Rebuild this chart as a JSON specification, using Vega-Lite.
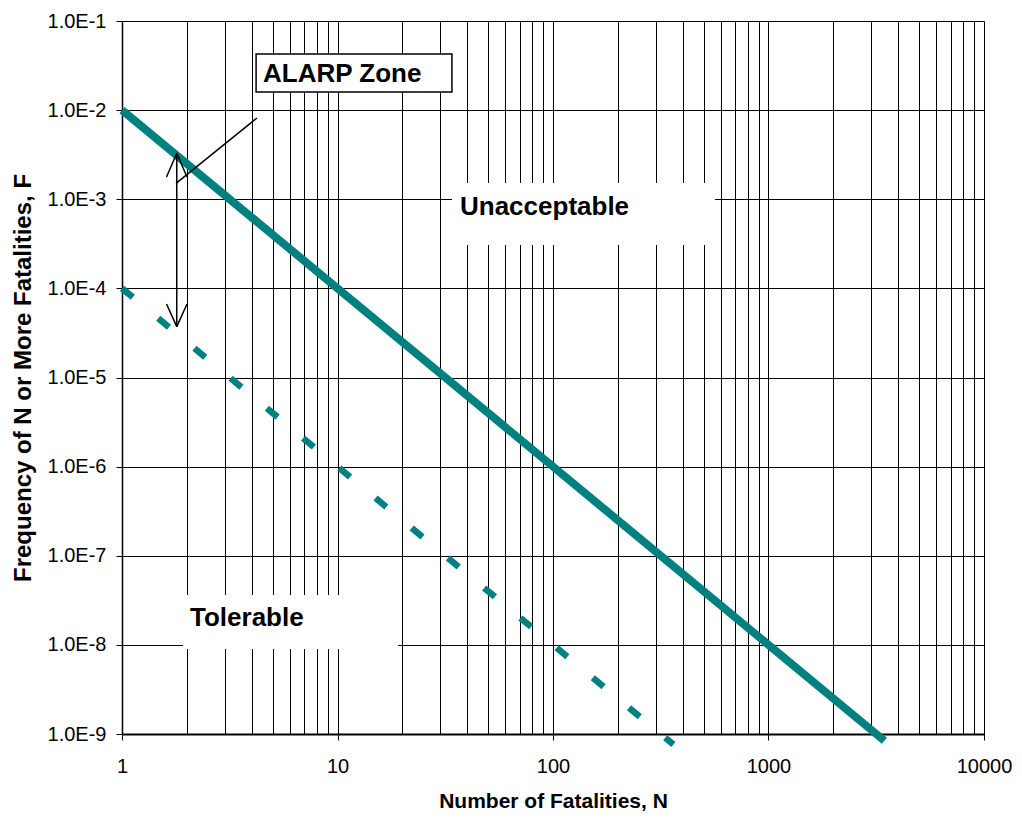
{
  "$schema": "https://vega.github.io/schema/vega-lite/v6.json",
  "width": 862,
  "height": 713,
  "autosize": {"type": "none"},
  "padding": {"left": 122, "top": 21, "right": 38, "bottom": 87},
  "background": "white",
  "config": {"view": {"stroke": null}, "font": "Liberation Sans"},
  "datasets": {
    "lines": [
      {"s": "upper", "N": 1, "F": 0.01},
      {"s": "upper", "N": 3450, "F": 8.4e-10},
      {"s": "lower", "N": 1, "F": 0.0001},
      {"s": "lower", "N": 362, "F": 7.63e-10}
    ],
    "boxes": [
      {"box": "Unacceptable", "N": 34.0, "N2": 564, "F": 0.00152, "F2": 0.000307},
      {"box": "Tolerable", "N": 1.92, "N2": 19.1, "F": 3.63e-8, "F2": 8.99e-9}
    ],
    "alarpbox": [
      {"box": "ALARP Zone", "N": 4.19, "N2": 33.97, "F": 0.0426, "F2": 0.01596}
    ],
    "labels": [
      {"label": "ALARP Zone", "N": 4.512, "F": 0.02543},
      {"label": "Unacceptable", "N": 37.02, "F": 0.000829},
      {"label": "Tolerable", "N": 2.068, "F": 1.993e-8}
    ],
    "arrow": [
      {"seg": "shaft", "i": 0, "N": 1.795, "F": 0.00328},
      {"seg": "shaft", "i": 1, "N": 1.795, "F": 0.0000372},
      {"seg": "tl", "i": 0, "N": 1.609, "F": 0.001778},
      {"seg": "tl", "i": 1, "N": 1.795, "F": 0.00328},
      {"seg": "tr", "i": 0, "N": 2.003, "F": 0.001778},
      {"seg": "tr", "i": 1, "N": 1.795, "F": 0.00328},
      {"seg": "bl", "i": 0, "N": 1.609, "F": 0.0000668},
      {"seg": "bl", "i": 1, "N": 1.795, "F": 0.0000372},
      {"seg": "br", "i": 0, "N": 2.003, "F": 0.0000668},
      {"seg": "br", "i": 1, "N": 1.795, "F": 0.0000372},
      {"seg": "leader", "i": 0, "N": 1.781, "F": 0.00151},
      {"seg": "leader", "i": 1, "N": 4.23, "F": 0.00816}
    ]
  },
  "encoding": {
    "x": {
      "field": "N",
      "type": "quantitative",
      "scale": {"type": "log", "domain": [1, 10000], "nice": false},
      "axis": {
        "values": [1, 2, 3, 4, 5, 6, 7, 8, 9, 10, 20, 30, 40, 50, 60, 70, 80, 90, 100, 200, 300, 400, 500, 600, 700, 800, 900, 1000, 2000, 3000, 4000, 5000, 6000, 7000, 8000, 9000, 10000],
        "title": "Number of Fatalities, N",
        "titleFont": "Liberation Sans",
        "titleFontSize": 21,
        "titleFontWeight": "bold",
        "titleColor": "black",
        "titlePadding": 14,
        "labelFont": "Liberation Sans",
        "labelFontSize": 20,
        "labelColor": "black",
        "labelPadding": 16,
        "labelExpr": "abs(log(datum.value)/LN10 - round(log(datum.value)/LN10)) < 0.000001 ? format(datum.value, 'd') : ''",
        "labelFlush": false,
        "labelOverlap": false,
        "labelBound": false,
        "grid": true,
        "gridColor": "black",
        "gridWidth": 1,
        "gridOpacity": 1,
        "ticks": true,
        "tickColor": "black",
        "tickSize": 6,
        "tickWidth": 1,
        "tickOpacity": {"condition": {"test": "abs(log(datum.value)/LN10 - round(log(datum.value)/LN10)) < 0.000001", "value": 1}, "value": 0},
        "domainColor": "black",
        "domainWidth": 2
      }
    },
    "y": {
      "field": "F",
      "type": "quantitative",
      "scale": {"type": "log", "domain": [1e-9, 0.1], "nice": false},
      "axis": {
        "values": [1e-9, 1e-8, 1e-7, 1e-6, 1e-5, 1e-4, 1e-3, 1e-2, 1e-1],
        "title": "Frequency of N or More Fatalities, F",
        "titleFont": "Liberation Sans",
        "titleFontSize": 24,
        "titleFontWeight": "bold",
        "titleColor": "black",
        "titlePadding": 12,
        "labelFont": "Liberation Sans",
        "labelFontSize": 20,
        "labelColor": "black",
        "labelPadding": 10,
        "labelExpr": "'1.0E-' + round(-log(datum.value)/LN10)",
        "labelOverlap": false,
        "labelFlush": false,
        "labelBound": false,
        "grid": true,
        "gridColor": "black",
        "gridWidth": 1,
        "gridOpacity": 1,
        "ticks": true,
        "tickColor": "black",
        "tickSize": 6,
        "tickWidth": 1,
        "domainColor": "black",
        "domainWidth": 1.5
      }
    }
  },
  "layer": [
    {
      "data": {"name": "boxes"},
      "mark": {"type": "rect", "fill": "white", "stroke": null},
      "encoding": {"x2": {"field": "N2"}, "y2": {"field": "F2"}}
    },
    {
      "data": {"name": "lines"},
      "transform": [{"filter": "datum.s === 'upper'"}],
      "mark": {"type": "line", "color": "#008080", "strokeWidth": 8, "strokeCap": "butt", "clip": false},
      "encoding": {}
    },
    {
      "data": {"name": "lines"},
      "transform": [{"filter": "datum.s === 'lower'"}],
      "mark": {"type": "line", "color": "#008080", "strokeWidth": 6.5, "strokeCap": "butt", "strokeDash": [14, 33], "clip": false},
      "encoding": {}
    },
    {
      "data": {"name": "arrow"},
      "mark": {"type": "line", "color": "black", "strokeWidth": 1.5},
      "encoding": {"detail": {"field": "seg"}, "order": {"field": "i"}}
    },
    {
      "data": {"name": "alarpbox"},
      "mark": {"type": "rect", "fill": "white", "stroke": "black", "strokeWidth": 1.5},
      "encoding": {"x2": {"field": "N2"}, "y2": {"field": "F2"}}
    },
    {
      "data": {"name": "labels"},
      "mark": {"type": "text", "align": "left", "baseline": "middle", "font": "Liberation Sans", "fontSize": 26, "fontWeight": "bold", "color": "black"},
      "encoding": {"text": {"field": "label"}}
    }
  ]
}
